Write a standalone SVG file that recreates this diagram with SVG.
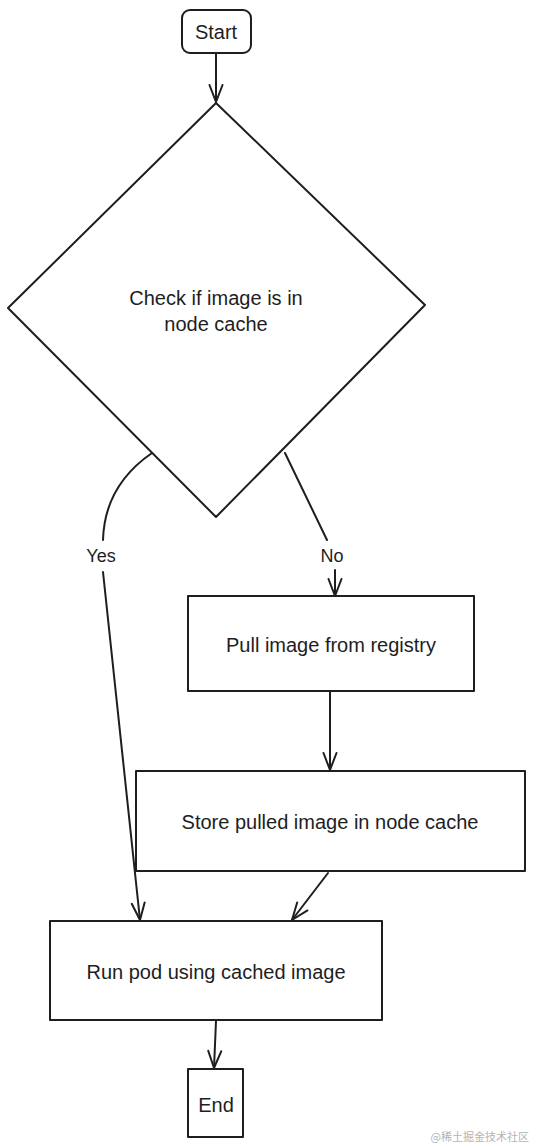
<svg xmlns="http://www.w3.org/2000/svg" width="535" height="1147" viewBox="0 0 535 1147">
<style>
.n{fill:#fff;stroke:#1e1e1e;stroke-width:2;stroke-linejoin:round}
.t{font-family:"Liberation Sans",Arial,sans-serif;font-size:20px;fill:#1e1e1e;text-anchor:middle;dominant-baseline:central}
.c{fill:none;stroke:#1e1e1e;stroke-width:2;stroke-linecap:round}
.l{font-family:"Liberation Sans",Arial,sans-serif;font-size:18px;fill:#1e1e1e;text-anchor:middle;dominant-baseline:central}
.w{font-family:"Noto Sans CJK SC",sans-serif;font-size:11px;fill:#b4b4b4;text-anchor:end}
</style>
<defs>
<marker id="a" markerUnits="userSpaceOnUse" markerWidth="24" markerHeight="24" refX="0" refY="0" viewBox="-20 -12 24 24" orient="auto" overflow="visible">
<path d="M-17 -6.5 L0 0 L-17 6.5" fill="none" stroke="#1e1e1e" stroke-width="2" stroke-linecap="round" stroke-linejoin="round"/>
</marker>
</defs>
<rect width="535" height="1147" fill="#fff"/>
<g id="connectors">
<path class="c" d="M216 54 L216 102" marker-end="url(#a)"/>
<path class="c" d="M152 453 C120 475 104 505 103 540"/>
<path class="c" d="M103 572 L140 920" marker-end="url(#a)"/>
<path class="c" d="M285 453 L327 540"/>
<path class="c" d="M335 570 L335 596" marker-end="url(#a)"/>
<path class="c" d="M330 692 L330 770" marker-end="url(#a)"/>
<path class="c" d="M328 873 L292 920" marker-end="url(#a)"/>
<path class="c" d="M216 1021 L214 1068" marker-end="url(#a)"/>
<text class="l" x="101" y="556">Yes</text>
<text class="l" x="332" y="556">No</text>
</g>
<g id="start">
<rect class="n" x="182" y="10" width="69" height="43" rx="8"/>
<text class="t" x="216" y="32">Start</text>
</g>
<g id="check">
<path class="n" d="M216 103 L425 305 L216 517 L8 308 Z"/>
<text class="t" x="216" y="298">Check if image is in</text>
<text class="t" x="216" y="324">node cache</text>
</g>
<g id="pull">
<rect class="n" x="188" y="596" width="286" height="95"/>
<text class="t" x="331" y="645">Pull image from registry</text>
</g>
<g id="store">
<rect class="n" x="136" y="771" width="389" height="100"/>
<text class="t" x="330" y="822">Store pulled image in node cache</text>
</g>
<g id="run">
<rect class="n" x="50" y="921" width="332" height="99"/>
<text class="t" x="216" y="972">Run pod using cached image</text>
</g>
<g id="end">
<rect class="n" x="188" y="1069" width="55" height="68"/>
<text class="t" x="216" y="1105">End</text>
</g>
<text class="w" x="529" y="1141">@稀土掘金技术社区</text>
</svg>
